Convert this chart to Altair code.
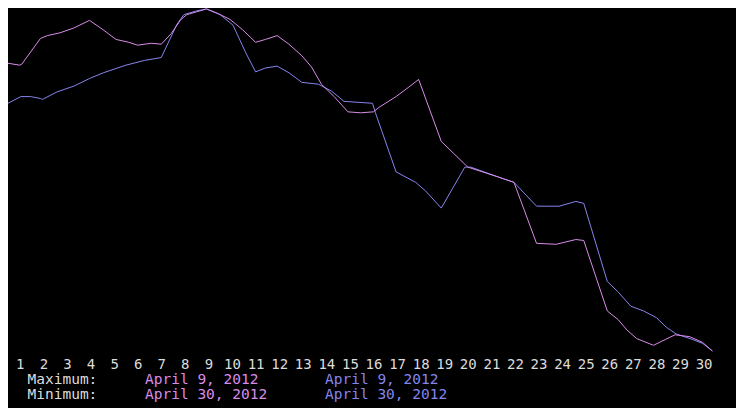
import altair as alt
import pandas as pd

# Hours since April 1, 00:00 and reading values (arbitrary units, no y axis shown)
hours_pink = [0, 12, 14, 33, 40, 53, 67, 83, 97, 110, 123, 132, 146, 156, 166,
              176, 182, 192, 202, 212, 226, 239, 252, 262, 274, 286, 299, 309, 319, 332,
              346, 359, 372, 378, 395, 408, 418, 441, 461, 468, 498, 515, 538, 558, 578,
              586, 610, 621, 630, 640, 657, 669, 679, 694, 707, 717]
values_pink = [302, 300, 301, 328, 331, 334, 339, 347, 337, 327, 324, 321, 323, 322, 333,
               348, 353, 356, 359, 355, 348, 337, 324, 327, 331, 322, 310, 298, 280, 267,
               251, 250, 251, 256, 267, 277, 285, 220, 200, 193, 183, 177, 113, 112, 117,
               116, 42, 33, 22, 13, 6, 12, 17, 15, 9, 0]

hours_blue = [0, 13, 23, 33, 35, 50, 67, 83, 97, 120, 139, 156, 172, 179, 192,
              202, 216, 229, 242, 252, 262, 274, 286, 299, 316, 329, 342, 371, 374, 395,
              415, 425, 441, 465, 471, 498, 515, 538, 561, 578, 586, 610, 621, 634, 647,
              660, 670, 680, 697, 707, 717]
values_blue = [260, 267, 267, 265, 264, 272, 278, 286, 292, 300, 305, 308, 343, 353, 357,
               359, 353, 342, 313, 293, 297, 299, 292, 282, 280, 273, 262, 260, 250, 188,
               177, 168, 150, 193, 193, 183, 177, 152, 152, 157, 155, 73, 62, 47, 42,
               35, 25, 18, 12, 8, 0]

day_labels = list(range(1, 31))
row_labels = ["Maximum:", "Minimum:"]
pink_dates = ["April 9, 2012", "April 30, 2012"]
blue_dates = ["April 9, 2012", "April 30, 2012"]

PINK = "#d88ce8"
BLUE = "#8585ee"
TEXT = "#dcdcdc"
FONT = "DejaVu Sans Mono"

W, H = 728, 343
x_scale = alt.Scale(domain=[0, 741], nice=False, zero=False)
y_scale = alt.Scale(domain=[0, 360], nice=False, zero=False)

df_pink = pd.DataFrame({"hour": hours_pink, "value": values_pink})
df_blue = pd.DataFrame({"hour": hours_blue, "value": values_blue})

x_axis = alt.Axis(
    values=[(d - 1) * 24 + 12 for d in day_labels],
    labelExpr="format((datum.value - 12) / 24 + 1, 'd')",
    labelFont=FONT, labelFontSize=14, labelColor=TEXT,
    labelBaseline="middle", labelPadding=13, labelOverlap=False, labelFlush=False,
    domain=False, ticks=False, tickSize=0, grid=False, title=None,
)

blue_line = alt.Chart(df_blue).mark_line(color=BLUE, strokeWidth=1).encode(
    x=alt.X("hour:Q", scale=x_scale, axis=x_axis),
    y=alt.Y("value:Q", scale=y_scale, axis=None),
)
pink_line = alt.Chart(df_pink).mark_line(color=PINK, strokeWidth=1).encode(
    x=alt.X("hour:Q", scale=x_scale, axis=x_axis),
    y=alt.Y("value:Q", scale=y_scale, axis=None),
)

row_y = [372, 387]
col_x = [19.5, 137, 317]
col_colors = [TEXT, PINK, BLUE]
col_texts = [row_labels, pink_dates, blue_dates]

texts = []
for ci, (cx, color, items) in enumerate(zip(col_x, col_colors, col_texts)):
    for ri, label in enumerate(items):
        texts.append(
            alt.Chart(pd.DataFrame({"t": [label]})).mark_text(
                align="left", baseline="middle", font=FONT, fontSize=14.5, color=color
            ).encode(text="t:N", x=alt.value(cx), y=alt.value(row_y[ri]))
        )

chart = alt.layer(blue_line, pink_line, *texts).properties(
    width=W, height=H,
    padding={"left": 0, "right": 0, "top": 0, "bottom": 57},
    autosize=alt.AutoSizeParams(type="none"),
    background="#000000",
).configure_view(strokeWidth=0)

chart.save("out.html", embed_options={"renderer": "svg", "actions": False})
